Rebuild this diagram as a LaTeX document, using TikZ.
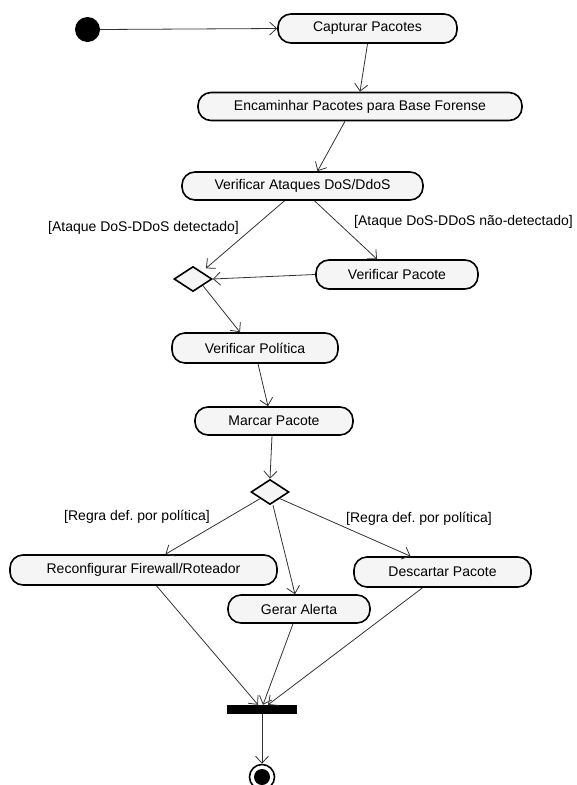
\documentclass[tikz,border=0pt]{standalone}
\usepackage{fontspec}
\setmainfont{Liberation Sans}
\usetikzlibrary{arrows.meta,shapes.geometric,calc}

\begin{document}
\frenchspacing
\begin{tikzpicture}[x=1pt,y=-1pt,
  font=\fontsize{14}{16}\selectfont,
  action/.style={draw=black, line width=1.6pt, fill=black!4,
    rounded corners=13pt, minimum height=28pt, inner sep=0pt},
  decision/.style={draw=black, line width=1.6pt, fill=black!4, shape=diamond,
    minimum width=38pt, minimum height=25pt, inner sep=0pt},
  flow/.style={draw=black!80, line width=0.8pt,
    -{Straight Barb[length=7pt,width=13pt,line width=0.8pt]}},
  guard/.style={inner sep=0pt}]

\useasboundingbox (0,0) rectangle (577,785);

% start state
\node[circle, fill=black, minimum size=25pt, inner sep=0pt] (start) at (87.5,29.5) {};

% actions
\node[action, minimum width=179pt, minimum height=29pt] (cap) at (367.5,28.5) {Capturar Pacotes};
\node[action, minimum width=324pt] (enc) at (360,106.5) {Encaminhar Pacotes para Base Forense};
\node[action, minimum width=241pt] (va) at (302.5,186) {Verificar Ataques DoS/DdoS};
\node[decision] (d1) at (193,279) {};
\node[action, minimum width=162pt, minimum height=29pt] (vp) at (397,274.5) {Verificar Pacote};
\node[action, minimum width=166pt, minimum height=30pt] (vpol) at (255,348) {Verificar Política};
\node[action, minimum width=158pt] (mp) at (274,421) {Marcar Pacote};
\node[decision] (d2) at (270,492) {};
\node[action, minimum width=267pt, minimum height=30pt] (rc) at (143.5,570) {Reconfigurar Firewall/Roteador};
\node[action, minimum width=142pt] (ga) at (299,609) {Gerar Alerta};
\node[action, minimum width=177pt, minimum height=30pt] (dc) at (442.5,572) {Descartar Pacote};

% join bar and final state
\node[fill=black, minimum width=70pt, minimum height=9pt, inner sep=0pt] (bar) at (262,709.5) {};
\node[circle, draw=black, line width=1.6pt, fill=white, minimum size=25pt, inner sep=0pt] (end) at (262,777) {};
\node[circle, fill=black, minimum size=16pt, inner sep=0pt] (endin) at (end.center) {};

% guards
\node[guard] (g1) at (143.5,228) {[Ataque DoS-DDoS detectado]};
\node[guard] (g2) at (463.5,222) {[Ataque DoS-DDoS não-detectado]};
\node[guard] (g3) at (137,517) {[Regra def.\ por política]};
\node[guard] (g4) at (419,519) {[Regra def.\ por política]};

% transitions
\draw[flow] (start.east) -- (cap.west);
\draw[flow] (cap.south) -- (enc.north);
\draw[flow] ($(enc.south)+(-15,0)$) -- ($(va.north)+(15,0)$);
\draw[flow] ($(va.south)+(-18,0)$) -- ($(d1.north east)+(3,-4)$);
\draw[flow] ($(va.south)+(12,0)$) -- ($(vp.north)+(-20,0)$);
\draw[flow] (vp.west) -- (d1.east);
\draw[flow] (d1.south east) -- ($(vpol.north)+(-15,0)$);
\draw[flow] ($(vpol.south)+(3,0)$) -- ($(mp.north)+(-6,0)$);
\draw[flow] ($(mp.south)+(-2,0)$) -- (d2.north);
\draw[flow] (d2.south west) -- ($(rc.north)+(22,0)$);
\draw[flow] ($(d2.south)+(3,0)$) -- ($(ga.north)+(-4,0)$);
\draw[flow] (d2.south east) -- ($(dc.north)+(-32,0)$);
\draw[flow] ($(rc.south)+(13,0)$) -- ($(bar.north)+(-4,0)$);
\draw[flow] ($(ga.south)+(-6,0)$) -- ($(bar.north)+(1,0)$);
\draw[flow] ($(dc.south)+(-20,0)$) -- ($(bar.north)+(6,0)$);
\draw[flow] (bar.south) -- (end.north);

\end{tikzpicture}
\end{document}
